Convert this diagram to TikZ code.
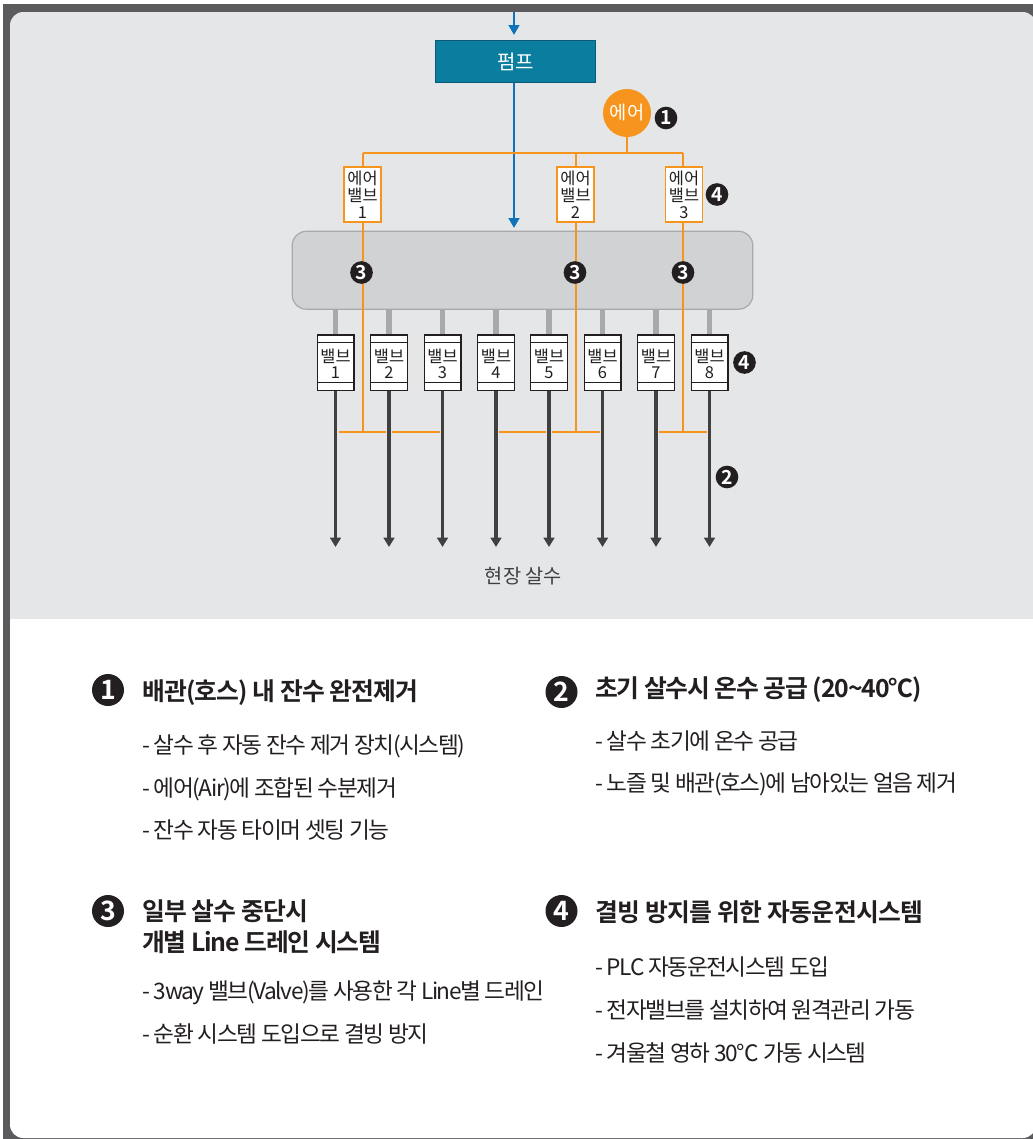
\documentclass[tikz,border=0pt]{standalone}
\usepackage{fontspec}
\usetikzlibrary{arrows.meta}
\setmainfont{Noto Sans CJK KR}[BoldFont={Noto Sans CJK KR Bold}]
\newfontfamily\headf{Noto Sans CJK KR Bold}[LetterSpace=-3.5]
\newfontfamily\headwide{Noto Sans CJK KR Bold}[LetterSpace=-2.5]
\newfontfamily\headtight{Noto Sans CJK KR Bold}[LetterSpace=-4.6]
\newfontfamily\bodyf{Noto Sans CJK KR}[LetterSpace=-6.2]
\definecolor{frameC}{HTML}{5B5B5D}
\definecolor{panelC}{HTML}{E5E6E8}
\definecolor{orangeC}{HTML}{F7941D}
\definecolor{blueC}{HTML}{0F72BA}
\definecolor{tealC}{HTML}{0B7EA0}
\definecolor{tealD}{HTML}{0A5A78}
\definecolor{manC}{HTML}{D1D2D4}
\definecolor{manD}{HTML}{A7A9AC}
\definecolor{darkC}{HTML}{404041}
\definecolor{inkC}{HTML}{231F20}
\tikzset{
  x=0.75pt,y=-0.75pt,
  airline/.style={draw=orangeC,line width=1.5pt},
  blueline/.style={draw=blueC,line width=2.2pt,-{Triangle[length=7.5pt,width=8pt]}},
  greystub/.style={draw=manD,line width=3.8pt},
  darkline/.style={draw=darkC,line width=2.5pt,-{Triangle[length=7pt,width=8pt]}},
  halo/.style={draw=panelC,line width=4.5pt},
  airvalve/.style={draw=orangeC,line width=1.1pt,fill=white,minimum width=28pt,minimum height=41.5pt,inner sep=0pt,align=center,font=\fontsize{12.3pt}{13pt}\selectfont,text=inkC},
  valvebox/.style={draw=inkC,line width=1pt,fill=white,minimum width=27.5pt,minimum height=41.5pt,inner sep=0pt,align=center,font=\fontsize{12.3pt}{13.5pt}\selectfont,text=inkC},
  badge/.style={circle,fill=inkC,text=white,minimum size=17pt,inner sep=0pt,font=\fontsize{14.5pt}{15pt}\selectfont\bfseries},
  bigbadge/.style={circle,fill=inkC,text=white,minimum size=24pt,inner sep=0pt,font=\fontsize{20pt}{21pt}\selectfont\bfseries},
  head/.style={anchor=base west,inner sep=0pt,align=left,text=inkC,font=\fontsize{18.6pt}{24pt}\selectfont\headf},
  item/.style={anchor=base west,inner sep=0pt,text=inkC,font=\fontsize{17pt}{20pt}\selectfont\bodyf},
}
\begin{document}
\begin{tikzpicture}
\useasboundingbox (0,0) rectangle (1032,1139);
\fill[white] (0,0) rectangle (1032,1139);
\fill[frameC] (3,4) rectangle (1036,1139);
\fill[white,rounded corners=10pt] (10,600) rectangle (1036,1138);
\fill[panelC,rounded corners=10pt] (10,12) rectangle (1036,640);
\fill[white] (10,619) rectangle (1040,660);

\coordinate (inTop) at (514,12);
\coordinate (inEnd) at (514,35);
\coordinate (pumpEnd) at (514,228);
\node[draw=tealD,line width=0.8pt,fill=tealC,minimum width=120pt,minimum height=32pt,inner sep=0pt,text=white,font=\fontsize{15pt}{16pt}\selectfont] (pump) at (515.5,61.5) {\raisebox{-0.8pt}{펌프}};
\draw[blueline] (inTop) -- (inEnd);
\draw[blueline] (pump.south -| pumpEnd) -- (pumpEnd);

\node[draw=none,fill=manC,rounded corners=10.5pt,minimum width=345pt,minimum height=58pt,inner sep=0pt] (manifold) at (522.5,270.25) {};
\draw[manD,line width=0.9pt,rounded corners=10.5pt] (manifold.south west) rectangle (manifold.north east);

\node[circle,fill=orangeC,minimum size=36pt,inner sep=0pt,text=white,font=\fontsize{14pt}{15pt}\selectfont] (air) at (627,113) {\raisebox{-2pt}{에어}};
\coordinate (airJ) at (627,152.5);
\coordinate (busL) at (362.5,152.5);
\coordinate (busM) at (575.5,152.5);
\coordinate (busR) at (683,152.5);

\foreach \n/\px in {1/335.5,2/389,3/442.5,4/496,5/549,6/602.5,7/656,8/709.5}{
  \coordinate (manOut\n) at (\px,309);
  \coordinate (tip\n) at (\px,547);
  \coordinate (cross\n) at (\px,432);
}
\coordinate (v1) at (362.5,432);
\coordinate (v2) at (575.5,432);
\coordinate (v3) at (683,432);
\draw[airline] (air.south) -- (airJ);
\draw[airline] (busL) -- (busR);
\node[airvalve] (av1) at (362.5,194.5) {에어\\[0pt]밸브\\[-0.5pt]1};
\node[airvalve] (av2) at (575.5,194.5) {에어\\[0pt]밸브\\[-0.5pt]2};
\node[airvalve] (av3) at (684,194.5) {에어\\[0pt]밸브\\[-0.5pt]3};
\draw[airline] (busL) -- (av1.north -| busL);
\draw[airline] (busM) -- (av2.north -| busM);
\draw[airline] (busR) -- (av3.north -| busR);
\draw[airline] (av1.south -| v1) -- (v1);
\draw[airline] (av2.south -| v2) -- (v2);
\draw[airline] (av3.south -| v3) -- (v3);
\draw[airline] (cross1) -- (cross3);
\draw[airline] (cross4) -- (cross6);
\draw[airline] (cross7) -- (cross8);

\foreach \n/\px in {1/335.5,2/389,3/442.5,4/496,5/549,6/602.5,7/656,8/709.5}{
  \draw[greystub] (manOut\n) -- (\px,334);
  \node[valvebox] (val\n) at (\px,362.5) {\rule{0pt}{6pt}\\[-7pt]밸브\\[-1.5pt]\n};
  \draw[inkC,line width=0.8pt] (\px-18.5,342.5) -- (\px+18.5,342.5);
  \draw[inkC,line width=0.8pt] (\px-18.5,382.5) -- (\px+18.5,382.5);
  \draw[halo] (val\n.south) -- (tip\n);
  \draw[darkline] (val\n.south) -- (tip\n);
}
\node[badge] (bA) at (666,118) {1};
\node[badge] (bB) at (717,194.5) {4};
\node[badge] (bC) at (744.5,362.5) {4};
\node[badge] (bD) at (727,477) {2};
\node[badge] (b3a) at (361.5,272.5) {3};
\node[badge] (b3b) at (575,272.5) {3};
\node[badge] (b3c) at (683,272.5) {3};
\node[inner sep=0pt,text=darkC,font=\fontsize{14.8pt}{16pt}\selectfont] (site) at (523.5,576) {현장 살수};

\node[bigbadge] (n1) at (108,690) {1};
\node[head] (h1) at (142,700) {배관(호스) 내 잔수 완전제거};
\node[item] (i11) at (142,753) {- 살수 후 자동 잔수 제거 장치(시스템)};
\node[item] (i12) at (142,796) {- 에어(Air)에 조합된 수분제거};
\node[item] (i13) at (142,838) {- 잔수 자동 타이머 셋팅 기능};

\node[bigbadge] (n2) at (561.5,692) {2};
\node[head] (h2) at (595,697.5) {\headtight 초기 살수시 온수 공급 (20\textasciitilde 40℃)};
\node[item] (i21) at (595,749) {- 살수 초기에 온수 공급};
\node[item] (i22) at (595,791) {- 노즐 및 배관(호스)에 남아있는 얼음 제거};

\node[bigbadge] (n3) at (108,911) {3};
\node[head] (h3) at (142,920) {일부 살수 중단시};
\node[head] (h3b) at (142,951) {\headtight 개별 Line 드레인 시스템};
\node[item] (i31) at (142,999) {- 3way 밸브(Valve)를 사용한 각 Line별 드레인};
\node[item] (i32) at (142,1042) {- 순환 시스템 도입으로 결빙 방지};

\node[bigbadge] (n4) at (561.5,911) {4};
\node[head] (h4) at (595,921) {\headwide 결빙 방지를 위한 자동운전시스템};
\node[item] (i41) at (595,975) {- PLC 자동운전시스템 도입};
\node[item] (i42) at (595,1018) {- 전자밸브를 설치하여 원격관리 가동};
\node[item] (i43) at (595,1061) {- 겨울철 영하 30°\kern0pt{}C 가동 시스템};
\end{tikzpicture}
\end{document}
